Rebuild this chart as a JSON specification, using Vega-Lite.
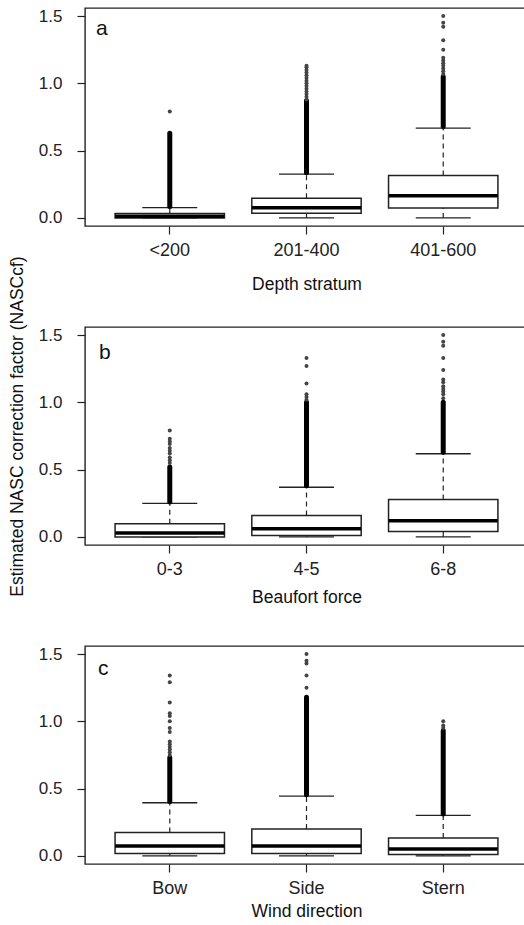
{
  "$schema": "https://vega.github.io/schema/vega-lite/v6.json",
  "padding": {"left": 7, "top": 6, "right": 0, "bottom": 0},
  "spacing": 101,
  "bounds": "flush",
  "datasets": {
    "boxes": [
      {"p": "a", "cat": "<200", "lo": 0, "q1": 0, "med": 0.012, "q3": 0.032, "hi": 0.076, "dlo": 0.085, "dhi": 0.63},
      {"p": "a", "cat": "201-400", "lo": 0, "q1": 0.035, "med": 0.076, "q3": 0.146, "hi": 0.325, "dlo": 0.335, "dhi": 0.87},
      {"p": "a", "cat": "401-600", "lo": 0, "q1": 0.074, "med": 0.165, "q3": 0.315, "hi": 0.667, "dlo": 0.68, "dhi": 1.05},
      {"p": "b", "cat": "0-3", "lo": 0, "q1": 0, "med": 0.03, "q3": 0.098, "hi": 0.249, "dlo": 0.26, "dhi": 0.52},
      {"p": "b", "cat": "4-5", "lo": 0, "q1": 0.01, "med": 0.06, "q3": 0.16, "hi": 0.369, "dlo": 0.38, "dhi": 1.0},
      {"p": "b", "cat": "6-8", "lo": 0, "q1": 0.04, "med": 0.12, "q3": 0.278, "hi": 0.618, "dlo": 0.63, "dhi": 1.0},
      {"p": "c", "cat": "Bow", "lo": 0, "q1": 0.018, "med": 0.074, "q3": 0.174, "hi": 0.395, "dlo": 0.405, "dhi": 0.73},
      {"p": "c", "cat": "Side", "lo": 0, "q1": 0.018, "med": 0.074, "q3": 0.2, "hi": 0.445, "dlo": 0.455, "dhi": 1.18},
      {"p": "c", "cat": "Stern", "lo": 0, "q1": 0.01, "med": 0.052, "q3": 0.134, "hi": 0.302, "dlo": 0.312, "dhi": 0.93}
    ],
    "outl": [
      {"p": "a", "cat": "<200", "v": 0.79},
      {"p": "a", "cat": "201-400", "v": 0.88}, {"p": "a", "cat": "201-400", "v": 0.9}, {"p": "a", "cat": "201-400", "v": 0.92}, {"p": "a", "cat": "201-400", "v": 0.94}, {"p": "a", "cat": "201-400", "v": 0.96}, {"p": "a", "cat": "201-400", "v": 0.98}, {"p": "a", "cat": "201-400", "v": 1.0}, {"p": "a", "cat": "201-400", "v": 1.02}, {"p": "a", "cat": "201-400", "v": 1.04}, {"p": "a", "cat": "201-400", "v": 1.06}, {"p": "a", "cat": "201-400", "v": 1.08}, {"p": "a", "cat": "201-400", "v": 1.1}, {"p": "a", "cat": "201-400", "v": 1.12}, {"p": "a", "cat": "201-400", "v": 1.13},
      {"p": "a", "cat": "401-600", "v": 1.07}, {"p": "a", "cat": "401-600", "v": 1.09}, {"p": "a", "cat": "401-600", "v": 1.11}, {"p": "a", "cat": "401-600", "v": 1.13}, {"p": "a", "cat": "401-600", "v": 1.15}, {"p": "a", "cat": "401-600", "v": 1.17}, {"p": "a", "cat": "401-600", "v": 1.19}, {"p": "a", "cat": "401-600", "v": 1.25}, {"p": "a", "cat": "401-600", "v": 1.32}, {"p": "a", "cat": "401-600", "v": 1.42}, {"p": "a", "cat": "401-600", "v": 1.45}, {"p": "a", "cat": "401-600", "v": 1.5},
      {"p": "b", "cat": "0-3", "v": 0.55}, {"p": "b", "cat": "0-3", "v": 0.57}, {"p": "b", "cat": "0-3", "v": 0.59}, {"p": "b", "cat": "0-3", "v": 0.62}, {"p": "b", "cat": "0-3", "v": 0.64}, {"p": "b", "cat": "0-3", "v": 0.66}, {"p": "b", "cat": "0-3", "v": 0.69}, {"p": "b", "cat": "0-3", "v": 0.71}, {"p": "b", "cat": "0-3", "v": 0.73}, {"p": "b", "cat": "0-3", "v": 0.79},
      {"p": "b", "cat": "4-5", "v": 1.02}, {"p": "b", "cat": "4-5", "v": 1.04}, {"p": "b", "cat": "4-5", "v": 1.06}, {"p": "b", "cat": "4-5", "v": 1.14}, {"p": "b", "cat": "4-5", "v": 1.27}, {"p": "b", "cat": "4-5", "v": 1.33},
      {"p": "b", "cat": "6-8", "v": 1.03}, {"p": "b", "cat": "6-8", "v": 1.06}, {"p": "b", "cat": "6-8", "v": 1.08}, {"p": "b", "cat": "6-8", "v": 1.1}, {"p": "b", "cat": "6-8", "v": 1.12}, {"p": "b", "cat": "6-8", "v": 1.15}, {"p": "b", "cat": "6-8", "v": 1.17}, {"p": "b", "cat": "6-8", "v": 1.24}, {"p": "b", "cat": "6-8", "v": 1.33}, {"p": "b", "cat": "6-8", "v": 1.42}, {"p": "b", "cat": "6-8", "v": 1.45}, {"p": "b", "cat": "6-8", "v": 1.5},
      {"p": "c", "cat": "Bow", "v": 0.75}, {"p": "c", "cat": "Bow", "v": 0.77}, {"p": "c", "cat": "Bow", "v": 0.79}, {"p": "c", "cat": "Bow", "v": 0.81}, {"p": "c", "cat": "Bow", "v": 0.83}, {"p": "c", "cat": "Bow", "v": 0.85}, {"p": "c", "cat": "Bow", "v": 0.92}, {"p": "c", "cat": "Bow", "v": 0.95}, {"p": "c", "cat": "Bow", "v": 1.0}, {"p": "c", "cat": "Bow", "v": 1.04}, {"p": "c", "cat": "Bow", "v": 1.06}, {"p": "c", "cat": "Bow", "v": 1.14}, {"p": "c", "cat": "Bow", "v": 1.29}, {"p": "c", "cat": "Bow", "v": 1.34},
      {"p": "c", "cat": "Side", "v": 1.25}, {"p": "c", "cat": "Side", "v": 1.34}, {"p": "c", "cat": "Side", "v": 1.43}, {"p": "c", "cat": "Side", "v": 1.45}, {"p": "c", "cat": "Side", "v": 1.5},
      {"p": "c", "cat": "Stern", "v": 0.95}, {"p": "c", "cat": "Stern", "v": 0.97}, {"p": "c", "cat": "Stern", "v": 1.0}
    ]
  },
  "config": {
    "font": "Liberation Sans",
    "view": {"stroke": "#222", "strokeWidth": 1.4},
    "axis": {"grid": false, "domain": false, "tickColor": "#222", "tickSize": 8, "tickWidth": 1.2, "labelColor": "#222", "titleColor": "#111", "titleFontWeight": "normal", "labelFont": "Liberation Sans", "titleFont": "Liberation Sans"},
    "axisX": {"labelFontSize": 18, "titleFontSize": 17.5, "labelPadding": 7, "labelAngle": 0},
    "axisY": {"labelFontSize": 17, "labelPadding": 15, "titleFontSize": 17.5, "titlePadding": 12, "titleY": 99},
    "tick": {"opacity": 1},
    "title": {"fontSize": 21, "fontWeight": "normal", "anchor": "start", "frame": "group", "baseline": "alphabetic", "color": "#111"}
  },
  "vconcat": [
    {
      "width": 443, "height": 218,
      "title": {"text": "a", "offset": -32, "dx": 11},
      "encoding": {"x": {"field": "cat", "type": "nominal", "scale": {"type": "band", "domain": ["<200", "201-400", "401-600"], "paddingInner": 0.2, "paddingOuter": 0.22}, "title": "Depth stratum", "axis": {"titlePadding": 16}}},
      "layer": [
        {"data": {"name": "boxes"}, "transform": [{"filter": "datum.p == 'a'"}], "mark": {"type": "rule", "strokeDash": [5, 4], "color": "#222", "strokeWidth": 1.2}, "encoding": {"y": {"field": "lo", "type": "quantitative", "scale": {"domain": [-0.06, 1.56], "nice": false, "zero": false}, "axis": {"values": [0, 0.5, 1, 1.5], "format": ".1f"}, "title": null}, "y2": {"field": "q1"}}},
        {"data": {"name": "boxes"}, "transform": [{"filter": "datum.p == 'a'"}], "mark": {"type": "rule", "strokeDash": [5, 4], "color": "#222", "strokeWidth": 1.2}, "encoding": {"y": {"field": "q3", "type": "quantitative", "scale": {"domain": [-0.06, 1.56], "nice": false, "zero": false}, "axis": {"values": [0, 0.5, 1, 1.5], "format": ".1f"}, "title": null}, "y2": {"field": "hi"}}},
        {"data": {"name": "boxes"}, "transform": [{"filter": "datum.p == 'a'"}], "mark": {"type": "tick", "size": 55, "thickness": 1.3, "color": "#222", "opacity": 1}, "encoding": {"y": {"field": "lo", "type": "quantitative", "scale": {"domain": [-0.06, 1.56], "nice": false, "zero": false}, "axis": {"values": [0, 0.5, 1, 1.5], "format": ".1f"}, "title": null}}},
        {"data": {"name": "boxes"}, "transform": [{"filter": "datum.p == 'a'"}], "mark": {"type": "tick", "size": 55, "thickness": 1.3, "color": "#222", "opacity": 1}, "encoding": {"y": {"field": "hi", "type": "quantitative", "scale": {"domain": [-0.06, 1.56], "nice": false, "zero": false}, "axis": {"values": [0, 0.5, 1, 1.5], "format": ".1f"}, "title": null}}},
        {"data": {"name": "boxes"}, "transform": [{"filter": "datum.p == 'a'"}], "mark": {"type": "bar", "fill": "white", "stroke": "#222", "strokeWidth": 1.5, "opacity": 1}, "encoding": {"y": {"field": "q1", "type": "quantitative", "scale": {"domain": [-0.06, 1.56], "nice": false, "zero": false}, "axis": {"values": [0, 0.5, 1, 1.5], "format": ".1f"}, "title": null}, "y2": {"field": "q3"}}},
        {"data": {"name": "boxes"}, "transform": [{"filter": "datum.p == 'a'"}], "mark": {"type": "tick", "size": 109, "thickness": 3.5, "color": "#000", "opacity": 1}, "encoding": {"y": {"field": "med", "type": "quantitative", "scale": {"domain": [-0.06, 1.56], "nice": false, "zero": false}, "axis": {"values": [0, 0.5, 1, 1.5], "format": ".1f"}, "title": null}}},
        {"data": {"name": "boxes"}, "transform": [{"filter": "datum.p == 'a'"}], "mark": {"type": "rule", "strokeWidth": 5, "strokeCap": "round", "color": "#000"}, "encoding": {"y": {"field": "dlo", "type": "quantitative", "scale": {"domain": [-0.06, 1.56], "nice": false, "zero": false}, "axis": {"values": [0, 0.5, 1, 1.5], "format": ".1f"}, "title": null}, "y2": {"field": "dhi"}}},
        {"data": {"name": "outl"}, "transform": [{"filter": "datum.p == 'a'"}], "mark": {"type": "circle", "size": 16, "color": "#444", "opacity": 1}, "encoding": {"y": {"field": "v", "type": "quantitative", "scale": {"domain": [-0.06, 1.56], "nice": false, "zero": false}, "axis": {"values": [0, 0.5, 1, 1.5], "format": ".1f"}, "title": null}}}
      ]
    },
    {
      "width": 443, "height": 218,
      "title": {"text": "b", "offset": -107, "dx": 14},
      "encoding": {"x": {"field": "cat", "type": "nominal", "scale": {"type": "band", "domain": ["0-3", "4-5", "6-8"], "paddingInner": 0.2, "paddingOuter": 0.22}, "title": "Beaufort force", "axis": {"titlePadding": 10}}},
      "layer": [
        {"data": {"name": "boxes"}, "transform": [{"filter": "datum.p == 'b'"}], "mark": {"type": "rule", "strokeDash": [5, 4], "color": "#222", "strokeWidth": 1.2}, "encoding": {"y": {"field": "lo", "type": "quantitative", "scale": {"domain": [-0.06, 1.56], "nice": false, "zero": false}, "axis": {"values": [0, 0.5, 1, 1.5], "format": ".1f"}, "title": "Estimated NASC correction factor (NASCcf)"}, "y2": {"field": "q1"}}},
        {"data": {"name": "boxes"}, "transform": [{"filter": "datum.p == 'b'"}], "mark": {"type": "rule", "strokeDash": [5, 4], "color": "#222", "strokeWidth": 1.2}, "encoding": {"y": {"field": "q3", "type": "quantitative", "scale": {"domain": [-0.06, 1.56], "nice": false, "zero": false}, "axis": {"values": [0, 0.5, 1, 1.5], "format": ".1f"}, "title": "Estimated NASC correction factor (NASCcf)"}, "y2": {"field": "hi"}}},
        {"data": {"name": "boxes"}, "transform": [{"filter": "datum.p == 'b'"}], "mark": {"type": "tick", "size": 55, "thickness": 1.3, "color": "#222", "opacity": 1}, "encoding": {"y": {"field": "lo", "type": "quantitative", "scale": {"domain": [-0.06, 1.56], "nice": false, "zero": false}, "axis": {"values": [0, 0.5, 1, 1.5], "format": ".1f"}, "title": "Estimated NASC correction factor (NASCcf)"}}},
        {"data": {"name": "boxes"}, "transform": [{"filter": "datum.p == 'b'"}], "mark": {"type": "tick", "size": 55, "thickness": 1.3, "color": "#222", "opacity": 1}, "encoding": {"y": {"field": "hi", "type": "quantitative", "scale": {"domain": [-0.06, 1.56], "nice": false, "zero": false}, "axis": {"values": [0, 0.5, 1, 1.5], "format": ".1f"}, "title": "Estimated NASC correction factor (NASCcf)"}}},
        {"data": {"name": "boxes"}, "transform": [{"filter": "datum.p == 'b'"}], "mark": {"type": "bar", "fill": "white", "stroke": "#222", "strokeWidth": 1.5, "opacity": 1}, "encoding": {"y": {"field": "q1", "type": "quantitative", "scale": {"domain": [-0.06, 1.56], "nice": false, "zero": false}, "axis": {"values": [0, 0.5, 1, 1.5], "format": ".1f"}, "title": "Estimated NASC correction factor (NASCcf)"}, "y2": {"field": "q3"}}},
        {"data": {"name": "boxes"}, "transform": [{"filter": "datum.p == 'b'"}], "mark": {"type": "tick", "size": 109, "thickness": 3.5, "color": "#000", "opacity": 1}, "encoding": {"y": {"field": "med", "type": "quantitative", "scale": {"domain": [-0.06, 1.56], "nice": false, "zero": false}, "axis": {"values": [0, 0.5, 1, 1.5], "format": ".1f"}, "title": "Estimated NASC correction factor (NASCcf)"}}},
        {"data": {"name": "boxes"}, "transform": [{"filter": "datum.p == 'b'"}], "mark": {"type": "rule", "strokeWidth": 5, "strokeCap": "round", "color": "#000"}, "encoding": {"y": {"field": "dlo", "type": "quantitative", "scale": {"domain": [-0.06, 1.56], "nice": false, "zero": false}, "axis": {"values": [0, 0.5, 1, 1.5], "format": ".1f"}, "title": "Estimated NASC correction factor (NASCcf)"}, "y2": {"field": "dhi"}}},
        {"data": {"name": "outl"}, "transform": [{"filter": "datum.p == 'b'"}], "mark": {"type": "circle", "size": 16, "color": "#444", "opacity": 1}, "encoding": {"y": {"field": "v", "type": "quantitative", "scale": {"domain": [-0.06, 1.56], "nice": false, "zero": false}, "axis": {"values": [0, 0.5, 1, 1.5], "format": ".1f"}, "title": "Estimated NASC correction factor (NASCcf)"}}}
      ]
    },
    {
      "width": 443, "height": 218,
      "title": {"text": "c", "offset": -34, "dx": 13},
      "encoding": {"x": {"field": "cat", "type": "nominal", "scale": {"type": "band", "domain": ["Bow", "Side", "Stern"], "paddingInner": 0.2, "paddingOuter": 0.22}, "title": "Wind direction", "axis": {"titlePadding": 5}}},
      "layer": [
        {"data": {"name": "boxes"}, "transform": [{"filter": "datum.p == 'c'"}], "mark": {"type": "rule", "strokeDash": [5, 4], "color": "#222", "strokeWidth": 1.2}, "encoding": {"y": {"field": "lo", "type": "quantitative", "scale": {"domain": [-0.06, 1.56], "nice": false, "zero": false}, "axis": {"values": [0, 0.5, 1, 1.5], "format": ".1f"}, "title": null}, "y2": {"field": "q1"}}},
        {"data": {"name": "boxes"}, "transform": [{"filter": "datum.p == 'c'"}], "mark": {"type": "rule", "strokeDash": [5, 4], "color": "#222", "strokeWidth": 1.2}, "encoding": {"y": {"field": "q3", "type": "quantitative", "scale": {"domain": [-0.06, 1.56], "nice": false, "zero": false}, "axis": {"values": [0, 0.5, 1, 1.5], "format": ".1f"}, "title": null}, "y2": {"field": "hi"}}},
        {"data": {"name": "boxes"}, "transform": [{"filter": "datum.p == 'c'"}], "mark": {"type": "tick", "size": 55, "thickness": 1.3, "color": "#222", "opacity": 1}, "encoding": {"y": {"field": "lo", "type": "quantitative", "scale": {"domain": [-0.06, 1.56], "nice": false, "zero": false}, "axis": {"values": [0, 0.5, 1, 1.5], "format": ".1f"}, "title": null}}},
        {"data": {"name": "boxes"}, "transform": [{"filter": "datum.p == 'c'"}], "mark": {"type": "tick", "size": 55, "thickness": 1.3, "color": "#222", "opacity": 1}, "encoding": {"y": {"field": "hi", "type": "quantitative", "scale": {"domain": [-0.06, 1.56], "nice": false, "zero": false}, "axis": {"values": [0, 0.5, 1, 1.5], "format": ".1f"}, "title": null}}},
        {"data": {"name": "boxes"}, "transform": [{"filter": "datum.p == 'c'"}], "mark": {"type": "bar", "fill": "white", "stroke": "#222", "strokeWidth": 1.5, "opacity": 1}, "encoding": {"y": {"field": "q1", "type": "quantitative", "scale": {"domain": [-0.06, 1.56], "nice": false, "zero": false}, "axis": {"values": [0, 0.5, 1, 1.5], "format": ".1f"}, "title": null}, "y2": {"field": "q3"}}},
        {"data": {"name": "boxes"}, "transform": [{"filter": "datum.p == 'c'"}], "mark": {"type": "tick", "size": 109, "thickness": 3.5, "color": "#000", "opacity": 1}, "encoding": {"y": {"field": "med", "type": "quantitative", "scale": {"domain": [-0.06, 1.56], "nice": false, "zero": false}, "axis": {"values": [0, 0.5, 1, 1.5], "format": ".1f"}, "title": null}}},
        {"data": {"name": "boxes"}, "transform": [{"filter": "datum.p == 'c'"}], "mark": {"type": "rule", "strokeWidth": 5, "strokeCap": "round", "color": "#000"}, "encoding": {"y": {"field": "dlo", "type": "quantitative", "scale": {"domain": [-0.06, 1.56], "nice": false, "zero": false}, "axis": {"values": [0, 0.5, 1, 1.5], "format": ".1f"}, "title": null}, "y2": {"field": "dhi"}}},
        {"data": {"name": "outl"}, "transform": [{"filter": "datum.p == 'c'"}], "mark": {"type": "circle", "size": 16, "color": "#444", "opacity": 1}, "encoding": {"y": {"field": "v", "type": "quantitative", "scale": {"domain": [-0.06, 1.56], "nice": false, "zero": false}, "axis": {"values": [0, 0.5, 1, 1.5], "format": ".1f"}, "title": null}}}
      ]
    }
  ]
}
